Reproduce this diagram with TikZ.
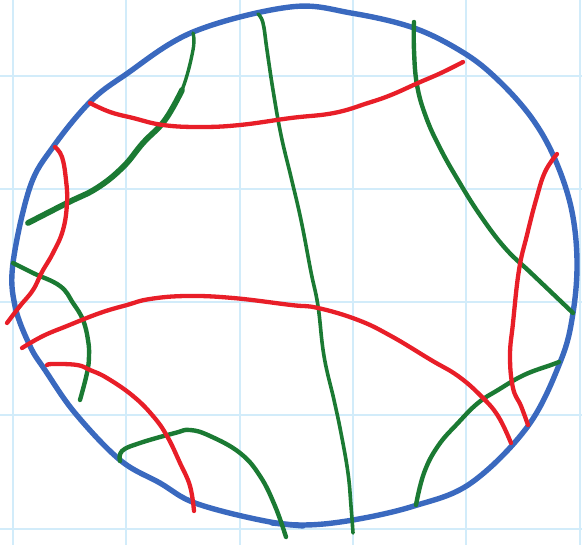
\documentclass[tikz,border=0pt]{standalone}
\usetikzlibrary{calc}
\definecolor{gridc}{HTML}{D2ECFA}
\definecolor{circc}{HTML}{3A69BF}
\definecolor{grn}{HTML}{1B7A33}
\definecolor{rd}{HTML}{E81E28}
\tikzset{
  gridline/.style={gridc, line width=2pt},
  circline/.style={circc, line width=5.4pt, line cap=round, line join=round},
  gline/.style={grn, line width=4.4pt, line cap=round, line join=round},
  rline/.style={rd, line width=4.3pt, line cap=round, line join=round},
}
\begin{document}
\begin{tikzpicture}[x=1pt,y=-1pt]
\useasboundingbox (0,0) rectangle (582,545);
% grid
\foreach \gx in {13,126.3,239.7,353,466.3,579.6}{\draw[gridline] (\gx,0) -- (\gx,545);}
\foreach \gy in {76,189,302,415.5,529}{\draw[gridline] (0,\gy) -- (582,\gy);}
% circle
\draw[circline] plot[smooth cycle, tension=0.6] coordinates{
 (290,7) (351,13) (414,28) (464,53) (498,80) (531,117) (554,157) (571,207) (577,260)
 (573,313) (561,360) (528,426) (471,483) (414,506) (353,520) (303,525) (260,520)
 (195,503) (160,483) (120,460) (75,413) (45,370) (30,346) (15,306) (13,263)
 (30,187) (53,147) (90,102) (125,75) (193,32)};
\draw[circline] (272,523) -- (303,526);
% green curves
\draw[gline, line width=3.4pt] plot[smooth, tension=0.7] coordinates{
 (193,33) (193,50) (182,90) (165,120)};
\draw[gline, line width=5.8pt] plot[smooth, tension=0.7] coordinates{
 (182,90) (165,120) (143,143) (123,167) (97,188) (67,203) (28,223)};
\draw[gline, line width=3.6pt] plot[smooth, tension=0.7] coordinates{
 (258,14) (263,23) (267,50) (273,90) (281,135) (291,177) (301,220)
 (311,272) (318,306) (324,356) (334,400) (341,433) (348,473) (351,506) (353,533)};
\draw[gline] plot[smooth, tension=0.7] coordinates{
 (414,22) (414,50) (417,85) (426,117) (440,148) (458,180) (480,215)
 (505,248) (530,272) (551,292) (573,313)};
\draw[gline] plot[smooth, tension=0.7] coordinates{
 (559,362) (551,365) (524,375) (498,390) (478,403) (458,423) (438,446) (424,473) (416,505)};
\draw[gline] plot[smooth, tension=0.7] coordinates{
 (120,461) (122,451) (140,443) (175,433) (190,430) (210,436) (240,453) (260,476) (275,506) (286,537)};
\draw[gline] plot[smooth, tension=0.7] coordinates{
 (13,263) (33,273) (60,286) (73,303) (83,320) (88,340) (89,356) (87,373) (80,400)};
% red curves
\draw[rline] plot[smooth, tension=0.7] coordinates{
 (90,103) (110,112) (133,118) (163,125) (200,127) (240,125) (291,118) (334,113)
 (368,103) (391,95) (418,83) (441,73) (463,62)};
\draw[rline] plot[smooth, tension=0.7] coordinates{
 (55,147) (62,157) (66,180) (67,203) (63,230) (53,253) (42,272) (33,290) (20,306) (7,323)};
\draw[rline] plot[smooth, tension=0.7] coordinates{
 (22,348) (43,336) (67,326) (100,313) (127,305) (150,299) (187,296) (233,298) (291,305)
 (318,308) (358,320) (391,336) (431,360) (458,376) (481,396) (498,416) (511,443)};
\draw[rline] plot[smooth, tension=0.7] coordinates{
 (557,154) (545,172) (536,200) (527,235) (519,270) (513,323) (510,356) (513,388) (521,406) (528,425)};
\draw[rline] plot[smooth, tension=0.7] coordinates{
 (47,365) (53,364) (77,365) (90,370) (107,378) (133,396) (153,416) (167,436) (180,463) (190,486) (194,511)};
\end{tikzpicture}
\end{document}
